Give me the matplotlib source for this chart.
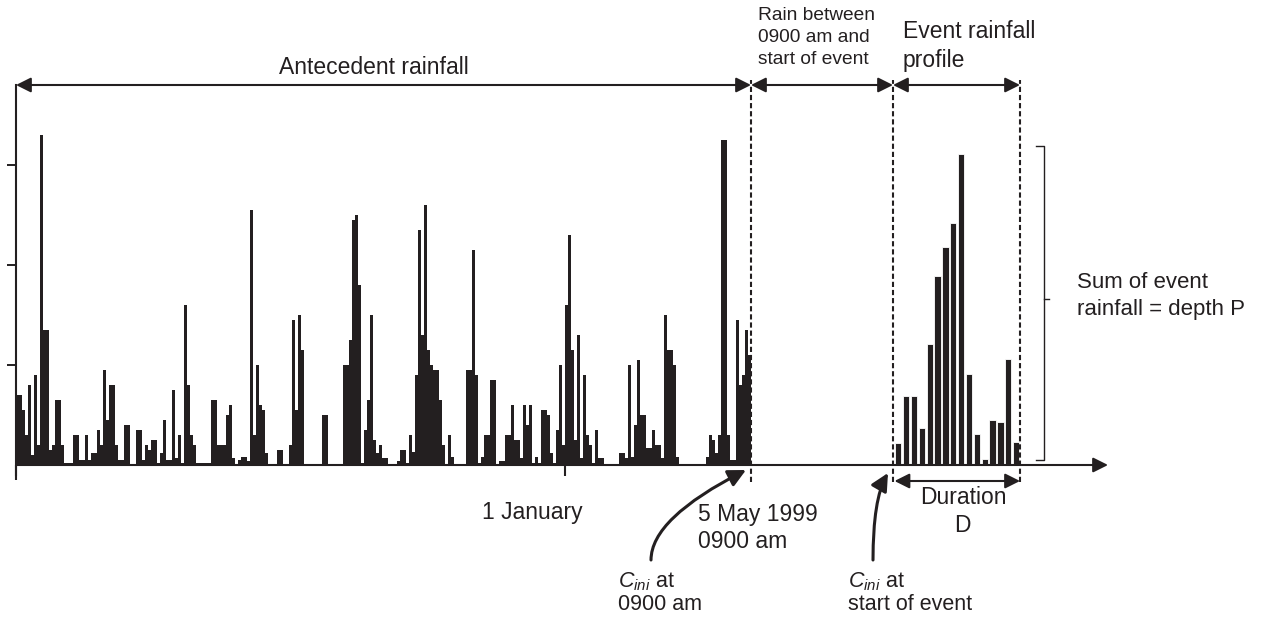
import matplotlib
matplotlib.use("Agg")
import matplotlib.pyplot as plt
import numpy as np

plt.rcParams.update({
    "font.family": ["Liberation Sans", "DejaVu Sans"],
    "mathtext.fontset": "custom",
    "mathtext.rm": "Liberation Sans",
    "mathtext.it": "Liberation Sans:italic",
})

INK = "#231f20"

# ── Data ────────────────────────────────────────────────────────────────────
# antecedent rainfall (mm), one bar per 2-day period, ending 5 May 1999 0900
antecedent_rain = [
    14, 14, 11, 6, 16, 2, 18, 4, 66, 27,
    27, 3, 4, 13, 13, 4, 0.4, 0.4, 0.4, 6,
    6, 1, 1, 6, 1, 2.4, 2.4, 7, 4, 19,
    9, 16, 16, 4, 1, 1, 8, 8, 0.2, 0.2,
    7, 7, 1, 4, 3, 5, 5, 0.4, 2.4, 9,
    1, 1, 15, 1.4, 6, 0.4, 32, 16, 6, 4,
    0.4, 0.4, 0.4, 0.4, 0.4, 13, 13, 4, 4, 4,
    10, 12, 1.4, 0, 1, 1.6, 1.6, 0.8, 51, 6,
    20, 12, 11, 2.4, 0, 0, 0, 3, 3, 0,
    0, 4, 29, 11, 30, 23, 0.2, 0.2, 0.2, 0.2,
    0.2, 0.2, 10, 10, 0, 0, 0, 0, 0, 20,
    20, 25, 49, 50, 36, 0.4, 7, 13, 30, 5,
    2.4, 4, 1.4, 1.4, 0, 0, 0, 0.8, 3, 3,
    0.4, 6, 2.6, 18, 47, 26, 52, 23, 20, 19,
    19, 13, 4, 0, 6, 1.6, 0, 0, 0, 0,
    19, 19, 43, 18, 0.4, 1.6, 6, 6, 17, 17,
    0, 0.8, 0.8, 6, 6, 12, 5, 5, 1.4, 12,
    8, 12, 0.4, 1.6, 0.4, 11, 11, 10, 2.4, 0.4,
    7, 20, 4, 32, 46, 23, 5, 26, 1.4, 18,
    6, 4, 0.4, 7, 1.4, 1.4, 0, 0, 0, 0,
    0, 2.4, 2.4, 1.4, 20, 1.6, 8, 21, 10, 10,
    3.4, 3.4, 7, 4, 4, 1.4, 30, 23, 23, 20,
    1.6, 0, 0, 0, 0, 0, 0, 0, 0, 0,
    1.6, 6, 5, 2.4, 6, 65, 65, 6, 1, 1,
    29, 16, 18, 27, 22,
]
BIN_DAYS = 2
JAN1_DAY = 366

# event rainfall profile (mm per time step)
event_rain = [4.4, 13.8, 13.8, 7.4, 24.2, 37.8, 43.6, 48.4,
              62.2, 18.2, 6.2, 1.2, 9.0, 8.6, 21.2, 4.6]

# ── Layout (figure pixels) ──────────────────────────────────────────────────
W, H = 1263, 620
PX_PER_DAY = 1.5
AX_LEFT, AX_RIGHT, AX_TOP, AX_BOTTOM = 16, 1108, 85, 475

MAY5_DAY = len(antecedent_rain) * BIN_DAYS
EVENT_START = (893 - AX_LEFT) / PX_PER_DAY
EVENT_END = (1020 - AX_LEFT) / PX_PER_DAY
EVENT_FIRST = (898.3 - AX_LEFT) / PX_PER_DAY
EVENT_STEP = 7.85 / PX_PER_DAY
EVENT_BAR_W = 6.3 / PX_PER_DAY


def fig_box(left, top, right, bottom):
    return [left / W, 1 - bottom / H, (right - left) / W, (bottom - top) / H]


fig = plt.figure(figsize=(W / 100, H / 100), dpi=100)
ax = fig.add_axes(fig_box(AX_LEFT, AX_TOP, AX_RIGHT, AX_BOTTOM))
ax.set_xlim(0, (AX_RIGHT - AX_LEFT) / PX_PER_DAY)
ax.set_ylim(-2, 76)

days = np.arange(len(antecedent_rain)) * BIN_DAYS
ax.bar(days, antecedent_rain, width=BIN_DAYS, align="edge", color=INK, linewidth=0)

event_x = EVENT_FIRST + np.arange(len(event_rain)) * EVENT_STEP
ax.bar(event_x, event_rain, width=EVENT_BAR_W, color=INK, edgecolor="white", linewidth=0.6)

for side in ("top", "right", "bottom"):
    ax.spines[side].set_visible(False)
ax.spines["left"].set_linewidth(1.5)
ax.spines["left"].set_color(INK)
ax.set_yticks([20, 40, 60])
ax.set_xticks([])
ax.tick_params(axis="y", direction="out", length=6.5, width=1.4, color=INK, labelleft=False)
ax.patch.set_alpha(0)

# time axis with arrow
ax.annotate("", xy=(ax.get_xlim()[1], 0), xytext=(0, 0), annotation_clip=False,
            arrowprops=dict(arrowstyle="-|>,head_length=0.6,head_width=0.3",
                            mutation_scale=15, lw=1.5, color=INK, shrinkA=0, shrinkB=0))
ax.vlines([0, JAN1_DAY], [-3, -2.2], 0, color=INK, lw=1.5, clip_on=False)

# dashed markers
ax.vlines([MAY5_DAY, EVENT_START, EVENT_END], -3.4, 77, color=INK, lw=1.5,
          linestyles=[(0, (2.5, 1.4))], clip_on=False)

dim = dict(arrowstyle="<|-|>,head_length=0.6,head_width=0.3", mutation_scale=15,
           lw=1.5, color=INK, shrinkA=0, shrinkB=0)
for a, b, y in [(0, MAY5_DAY, 76), (MAY5_DAY, EVENT_START, 76),
                (EVENT_START, EVENT_END, 76), (EVENT_START + 1, EVENT_END, -3.2)]:
    ax.annotate("", xy=(b, y), xytext=(a, y), arrowprops=dim, annotation_clip=False)

# ── Overlay for labels ──────────────────────────────────────────────────────
ov = fig.add_axes([0, 0, 1, 1], zorder=5)
ov.set_xlim(0, W)
ov.set_ylim(H, 0)
ov.axis("off")
ov.patch.set_alpha(0)

big = 16.5
ov.text(374, 67, "Antecedent rainfall", ha="center", va="center", fontsize=big, color=INK)
for y, s in [(15, "Rain between"), (38, "0900 am and"), (60, "start of event")]:
    ov.text(758, y, s, ha="left", va="center", fontsize=13.8, color=INK)
ov.text(903, 32, "Event rainfall", ha="left", va="center", fontsize=big, color=INK)
ov.text(903, 60, "profile", ha="left", va="center", fontsize=big, color=INK)
ov.text(1077, 283, "Sum of event", ha="left", va="center", fontsize=16, color=INK)
ov.text(1077, 310, "rainfall = depth P", ha="left", va="center", fontsize=16, color=INK)
ov.text(482, 512, "1 January", ha="left", va="center", fontsize=big, color=INK)
ov.text(698, 515, "5 May 1999", ha="left", va="center", fontsize=big, color=INK)
ov.text(698, 541, "0900 am", ha="left", va="center", fontsize=big, color=INK)
ov.text(963, 497, "Duration", ha="center", va="center", fontsize=big, color=INK)
ov.text(962, 525, "D", ha="center", va="center", fontsize=big, color=INK)
ov.text(618, 582, r"$C_{ini}$ at", ha="left", va="center", fontsize=15.5, color=INK)
ov.text(618, 604, "0900 am", ha="left", va="center", fontsize=15.5, color=INK)
ov.text(848, 582, r"$C_{ini}$ at", ha="left", va="center", fontsize=15.5, color=INK)
ov.text(848, 604, "start of event", ha="left", va="center", fontsize=15.5, color=INK)

# curved pointers
curve = dict(arrowstyle="-|>,head_length=0.7,head_width=0.35", mutation_scale=15,
             lw=2.2, color=INK, shrinkA=0, shrinkB=0)
ov.annotate("", xy=(746, 470), xytext=(651, 560),
            arrowprops=dict(curve, connectionstyle="angle3,angleA=90,angleB=27"))
ov.annotate("", xy=(888, 473), xytext=(873, 560),
            arrowprops=dict(curve, connectionstyle="angle3,angleA=90,angleB=60"))

# bracket for event depth
ov.plot([1036, 1044, 1044, 1036], [146, 146, 460, 460], color=INK, lw=1.0)
ov.plot([1044, 1049], [299, 299], color=INK, lw=1.0)

fig.savefig("out.png", dpi=100, facecolor="white")
plt.close(fig)
